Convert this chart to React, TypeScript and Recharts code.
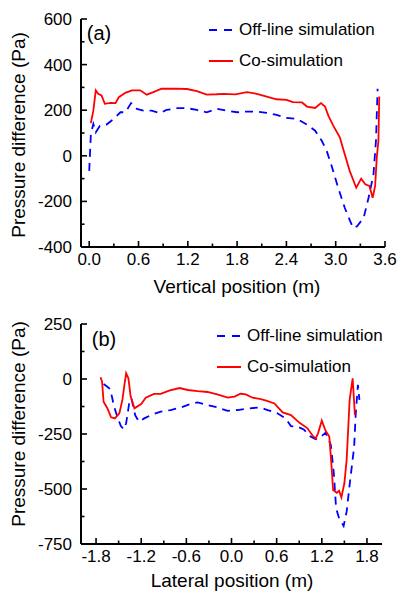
import React from 'react';
import { LineChart, Line, XAxis, YAxis } from 'recharts';

// panel (a): vertical position (m) vs pressure difference (Pa)
const offA_x = [0, 0.02, 0.05, 0.08, 0.13, 0.21, 0.30, 0.38, 0.44, 0.51, 0.58, 0.66, 0.76, 0.86, 0.94, 1.07, 1.19, 1.31, 1.43, 1.55, 1.67, 1.80, 1.92, 2.04, 2.16, 2.28, 2.40, 2.53, 2.65, 2.75, 2.83, 2.89, 2.95, 3.03, 3.11, 3.21, 3.26, 3.34, 3.40, 3.46, 3.49, 3.51];
const offA_p = [-66, 95, 140, 103, 132, 137, 162, 191, 191, 231, 206, 198, 198, 187, 201, 209, 209, 201, 191, 206, 198, 191, 194, 194, 188, 179, 166, 162, 137, 110, 66, 22, -44, -140, -228, -316, -309, -272, -184, -81, 66, 294];
const coA_x = [0.02, 0.05, 0.08, 0.11, 0.15, 0.19, 0.26, 0.32, 0.36, 0.44, 0.52, 0.62, 0.70, 0.78, 0.88, 1.03, 1.19, 1.31, 1.43, 1.55, 1.63, 1.78, 1.92, 2.04, 2.16, 2.28, 2.40, 2.48, 2.59, 2.65, 2.75, 2.82, 2.87, 2.91, 2.97, 3.05, 3.11, 3.17, 3.25, 3.31, 3.36, 3.41, 3.45, 3.48, 3.50, 3.52, 3.53];
const coA_p = [143, 198, 287, 272, 265, 228, 232, 231, 257, 276, 287, 287, 268, 279, 294, 295, 293, 284, 268, 270, 272, 269, 279, 272, 260, 248, 245, 235, 234, 216, 210, 231, 216, 176, 132, 81, 7, -66, -140, -100, -125, -132, -184, -132, -7, 66, 260];

// panel (b): lateral position (m) vs pressure difference (Pa)
const offB_x = [-1.70, -1.65, -1.61, -1.56, -1.51, -1.47, -1.43, -1.40, -1.36, -1.33, -1.28, -1.23, -1.16, -1.07, -0.94, -0.81, -0.67, -0.56, -0.45, -0.32, -0.19, -0.05, 0.08, 0.21, 0.37, 0.48, 0.61, 0.72, 0.79, 0.88, 0.96, 1.05, 1.12, 1.19, 1.25, 1.32, 1.36, 1.39, 1.43, 1.49, 1.53, 1.58, 1.63, 1.65, 1.68, 1.70];
const offB_p = [-23, -35, -47, -126, -179, -214, -229, -201, -111, -88, -164, -194, -179, -164, -148, -141, -129, -115, -106, -118, -129, -145, -141, -135, -129, -141, -156, -179, -214, -217, -229, -262, -274, -262, -244, -300, -429, -588, -633, -668, -603, -451, -308, -164, -27, -95];
const coB_x = [-1.74, -1.72, -1.70, -1.65, -1.60, -1.55, -1.49, -1.45, -1.42, -1.40, -1.37, -1.34, -1.29, -1.20, -1.14, -1.03, -0.94, -0.83, -0.69, -0.58, -0.45, -0.32, -0.19, -0.05, 0.04, 0.12, 0.19, 0.28, 0.39, 0.46, 0.57, 0.68, 0.79, 0.90, 1.01, 1.08, 1.12, 1.15, 1.20, 1.25, 1.30, 1.33, 1.35, 1.40, 1.43, 1.46, 1.50, 1.53, 1.57, 1.61, 1.64];
const coB_p = [8, -12, -103, -133, -174, -179, -156, -95, -20, 26, 3, -80, -133, -114, -85, -68, -68, -53, -41, -50, -55, -59, -70, -85, -80, -67, -70, -85, -91, -98, -111, -152, -164, -198, -224, -259, -270, -247, -189, -235, -262, -398, -505, -517, -508, -538, -474, -368, -95, 3, -164];

const xTicksA = [0, 0.3, 0.6, 0.9, 1.2, 1.5, 1.8, 2.1, 2.4, 2.7, 3.0, 3.3, 3.6];
const yTicksA = [-400, -300, -200, -100, 0, 100, 200, 300, 400, 500, 600];
const xTicksB = [-1.8, -1.5, -1.2, -0.9, -0.6, -0.3, 0, 0.3, 0.6, 0.9, 1.2, 1.5, 1.8];
const yTicksB = [-750, -625, -500, -375, -250, -125, 0, 125, 250];

const seriesNames = ['Off-line simulation', 'Co-simulation'];

const zip = (xs: number[], ys: number[]) => xs.map((x, i) => ({ x, p: ys[i] }));

const FONT = '"Liberation Sans", Arial, sans-serif';
const BLUE = '#0000ff';
const RED = '#ff0000';

// ticks point inward; minor ticks are shorter and unlabeled
function makeXTick(majors: number[], axisY: number) {
  return (props: any) => {
    const v = props.payload.value;
    const major = majors.some((m) => Math.abs(m - v) < 1e-6);
    return (
      <g>
        <line x1={props.x} x2={props.x} y1={axisY} y2={axisY - (major ? 6 : 3.5)} stroke="#000" strokeWidth={1.6} />
        {major && (
          <text x={props.x} y={axisY + 18} textAnchor="middle" fontSize={17} fontFamily={FONT} fill="#000">
            {Math.abs(v) < 1e-9 ? '0.0' : v.toFixed(1)}
          </text>
        )}
      </g>
    );
  };
}

function makeYTick(majors: number[], axisX: number) {
  return (props: any) => {
    const v = props.payload.value;
    const major = majors.includes(v);
    return (
      <g>
        <line x1={axisX} x2={axisX + (major ? 6 : 3.5)} y1={props.y} y2={props.y} stroke="#000" strokeWidth={1.6} />
        {major && (
          <text x={axisX - 9} y={props.y + 6} textAnchor="end" fontSize={17} fontFamily={FONT} fill="#000">
            {v}
          </text>
        )}
      </g>
    );
  };
}

function LegendBox({ left, top }: { left: number; top: number }) {
  return (
    <div style={{ position: 'absolute', left, top, fontFamily: FONT, fontSize: 17 }}>
      {seriesNames.map((name, i) => (
        <div key={name} style={{ display: 'flex', alignItems: 'center', height: 31 }}>
          <svg width={26} height={10} style={{ marginRight: 5 }}>
            <line x1={1} x2={25} y1={5} y2={5} stroke={i === 0 ? BLUE : RED} strokeWidth={2} strokeDasharray={i === 0 ? '8 7' : undefined} />
          </svg>
          <span>{name}</span>
        </div>
      ))}
    </div>
  );
}

function Txt({ x, y, size, rotate, children }: any) {
  return (
    <div
      style={{
        position: 'absolute',
        left: x,
        top: y,
        transform: `translate(-50%, -50%)${rotate ? ' rotate(-90deg)' : ''}`,
        whiteSpace: 'nowrap',
        fontFamily: FONT,
        fontSize: size,
        lineHeight: 1,
      }}
    >
      {children}
    </div>
  );
}

const axisLine = { stroke: '#000', strokeWidth: 2 };

export default function App() {
  const offA = zip(offA_x, offA_p);
  const coA = zip(coA_x, coA_p);
  const offB = zip(offB_x, offB_p);
  const coB = zip(coB_x, coB_p);

  return (
    <div style={{ position: 'absolute', left: 0, top: 0, width: 398, height: 592, background: '#fff' }}>
      <div style={{ position: 'absolute', left: 0, top: 0 }}>
        <LineChart width={398} height={300} margin={{ top: 19, right: 13, bottom: 23, left: 20 }}>
          <XAxis
            type="number"
            dataKey="x"
            domain={[-0.1, 3.6]}
            ticks={xTicksA}
            interval={0}
            allowDataOverflow
            height={30}
            tickSize={0}
            tickLine={false}
            axisLine={axisLine}
            tick={makeXTick([0, 0.6, 1.2, 1.8, 2.4, 3.0, 3.6], 247)}
          />
          <YAxis
            type="number"
            dataKey="p"
            domain={[-400, 600]}
            ticks={yTicksA}
            interval={0}
            allowDataOverflow
            width={61}
            tickSize={0}
            tickLine={false}
            axisLine={axisLine}
            tick={makeYTick([-400, -200, 0, 200, 400, 600], 81)}
          />
          <Line data={offA} dataKey="p" stroke={BLUE} strokeWidth={1.8} strokeDasharray="8 6" dot={false} isAnimationActive={false} />
          <Line data={coA} dataKey="p" stroke={RED} strokeWidth={1.8} dot={false} isAnimationActive={false} />
        </LineChart>
      </div>
      <div style={{ position: 'absolute', left: 0, top: 300 }}>
        <LineChart width={398} height={292} margin={{ top: 24, right: 16, bottom: 18, left: 20 }}>
          <XAxis
            type="number"
            dataKey="x"
            domain={[-2, 2]}
            ticks={xTicksB}
            interval={0}
            allowDataOverflow
            height={30}
            tickSize={0}
            tickLine={false}
            axisLine={axisLine}
            tick={makeXTick([-1.8, -1.2, -0.6, 0, 0.6, 1.2, 1.8], 244)}
          />
          <YAxis
            type="number"
            dataKey="p"
            domain={[-750, 250]}
            ticks={yTicksB}
            interval={0}
            allowDataOverflow
            width={61}
            tickSize={0}
            tickLine={false}
            axisLine={axisLine}
            tick={makeYTick([-750, -500, -250, 0, 250], 81)}
          />
          <Line data={offB} dataKey="p" stroke={BLUE} strokeWidth={1.8} strokeDasharray="8 6" dot={false} isAnimationActive={false} />
          <Line data={coB} dataKey="p" stroke={RED} strokeWidth={1.8} dot={false} isAnimationActive={false} />
        </LineChart>
      </div>

      <Txt x={99} y={33} size={20}>(a)</Txt>
      <Txt x={104} y={339} size={20}>(b)</Txt>
      <LegendBox left={208} top={14} />
      <LegendBox left={216} top={320} />
      <Txt x={18} y={135} size={19} rotate>Pressure difference (Pa)</Txt>
      <Txt x={18} y={424} size={19} rotate>Pressure difference (Pa)</Txt>
      <Txt x={237} y={286} size={19}>Vertical position (m)</Txt>
      <Txt x={232} y={580} size={19}>Lateral position (m)</Txt>
    </div>
  );
}
